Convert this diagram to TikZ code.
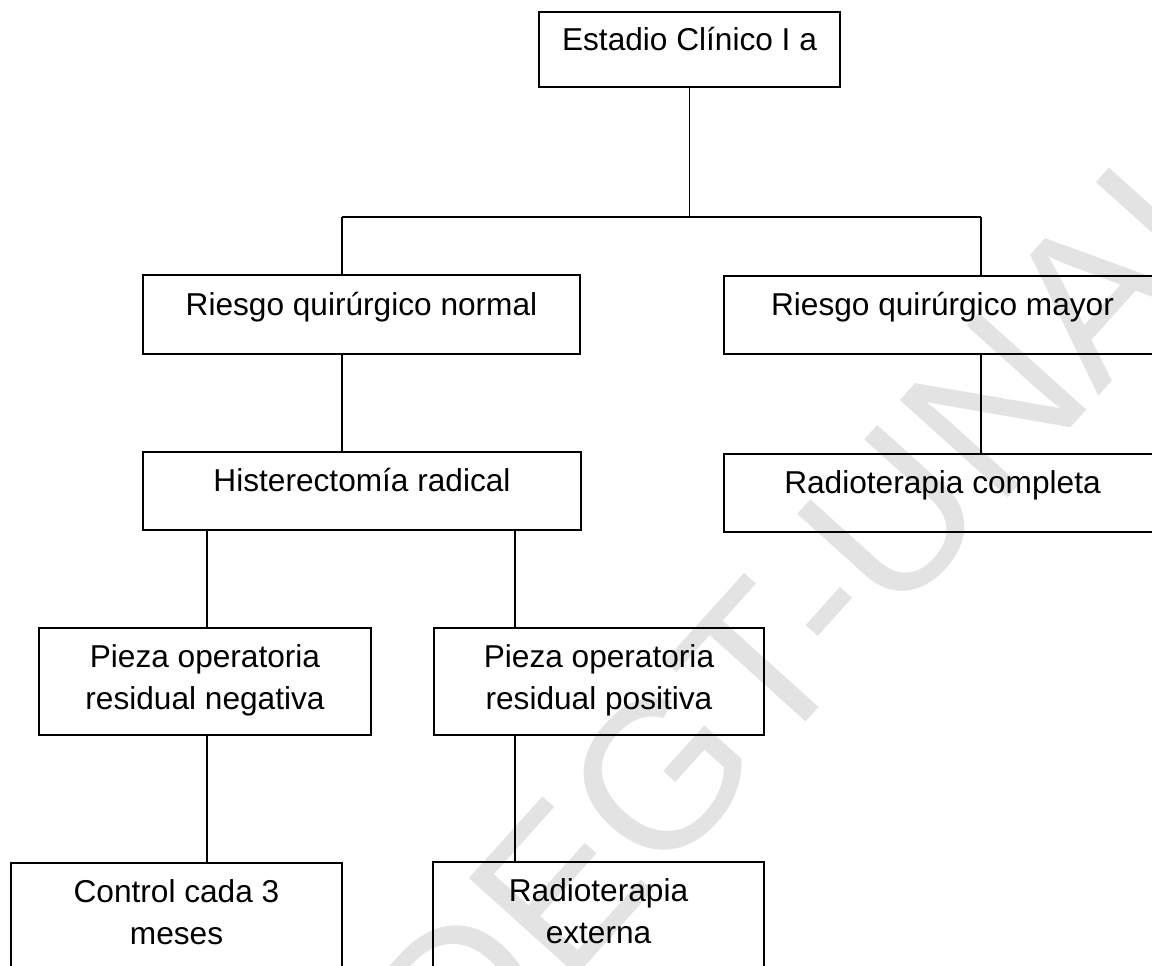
\documentclass[tikz,border=0pt]{standalone}
\usepackage{fontspec}
\setmainfont{Liberation Sans}
\begin{document}
\begin{tikzpicture}[x=0.02cm, y=-0.02cm,
    caja/.style={draw, line width=1pt, inner sep=0pt, align=center, font=\fontsize{18}{23.8}\selectfont},
    uno/.style={caja, text height=0.6em, text depth=0.5em},
    dos/.style={caja, text height=3.4em, text depth=0.18em},
    linea/.style={line width=0.8pt}]
    \clip (0,0) rectangle (1152,965);
    \node[rotate=48, text=black!11, font=\fontsize{120}{120}\selectfont] (marca) at (825,592) {DEGT-UNAH};
    \node[uno, minimum width=6.02cm, minimum height=1.5cm] (est) at (689.5,49.5) {Estadio Clínico I a};
    \node[uno, minimum width=8.74cm, minimum height=1.58cm] (rnorm) at (361.5,314.5) {Riesgo quirúrgico normal};
    \node[uno, minimum width=8.74cm, minimum height=1.56cm] (rmay) at (942.5,315) {Riesgo quirúrgico mayor};
    \node[uno, minimum width=8.76cm, minimum height=1.56cm] (hist) at (362,491) {Histerectomía radical};
    \node[uno, minimum width=8.74cm, minimum height=1.56cm] (rcomp) at (942.5,493) {Radioterapia completa};
    \node[dos, minimum width=6.64cm, minimum height=2.14cm] (pneg) at (205,681.5) {Pieza operatoria\\residual negativa};
    \node[dos, minimum width=6.6cm, minimum height=2.14cm] (ppos) at (599,681.5) {Pieza operatoria\\residual positiva};
    \node[dos, minimum width=6.62cm, minimum height=2.14cm] (ctrl) at (176.5,916.5) {Control cada 3\\meses};
    \node[dos, minimum width=6.62cm, minimum height=2.14cm] (rext) at (598.5,915.5) {Radioterapia\\externa};
    \coordinate (bl) at (342,217);
    \coordinate (br) at (981,217);
    \coordinate (pn) at (207,0);
    \coordinate (pp) at (515,0);
    \draw[linea] (est.south) -- (est.south |- bl);
    \draw[linea] (bl) -- (br);
    \draw[linea] (bl) -- (bl |- rnorm.north);
    \draw[linea] (br) -- (br |- rmay.north);
    \draw[linea] (rnorm.south -| bl) -- (hist.north -| bl);
    \draw[linea] (rmay.south -| br) -- (rcomp.north -| br);
    \draw[linea] (hist.south -| pn) -- (pneg.north -| pn);
    \draw[linea] (hist.south -| pp) -- (ppos.north -| pp);
    \draw[linea] (pneg.south -| pn) -- (ctrl.north -| pn);
    \draw[linea] (ppos.south -| pp) -- (rext.north -| pp);
\end{tikzpicture}
\end{document}
